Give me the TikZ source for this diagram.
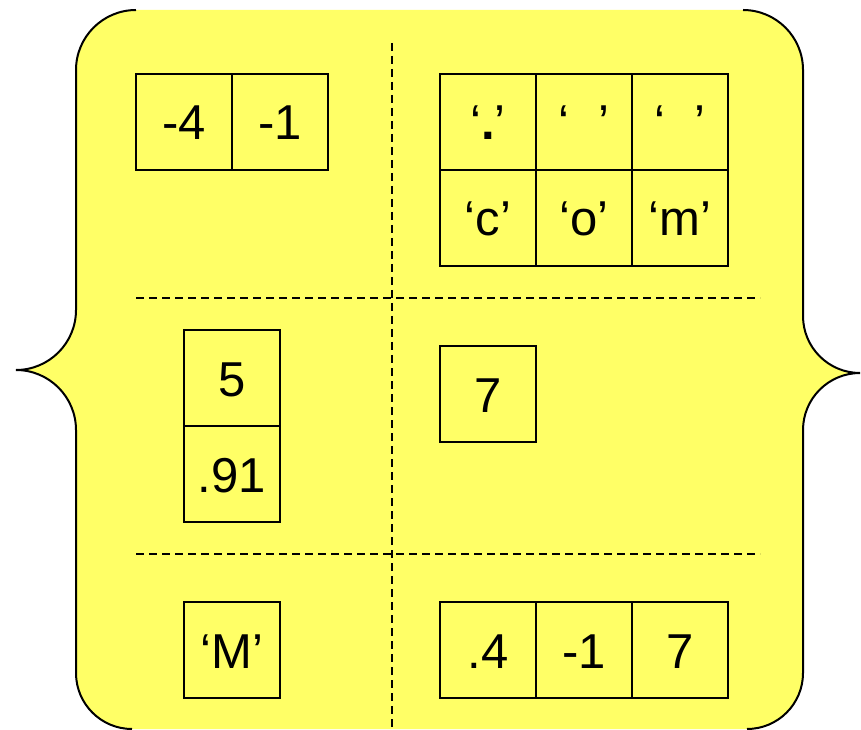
\documentclass[tikz,border=0pt]{standalone}
\usepackage{fontspec}
\setmainfont{Liberation Sans}
\usepackage{tikz}
\usetikzlibrary{calc}
\definecolor{bgyellow}{RGB}{255,255,102}
\tikzset{
  cell/.style={draw,line width=1.5pt,minimum size=96pt,inner sep=0pt,outer sep=0pt,
    text height=36pt,text depth=0pt,font=\fontsize{49}{58}\selectfont},
  divider/.style={line width=1.5pt,dash pattern=on 8pt off 5pt},
  brace/.style={line width=2pt}
}
\begin{document}
\begin{tikzpicture}[x=1pt,y=1pt]
\useasboundingbox (0,0) rectangle (861,729);
% yellow area with a brace on each side
\fill[bgyellow] (136,719) arc (90:180:60) -- (76,419) arc (0:-90:60) arc (90:0:60)
  -- (76,56) arc (180:270:56) -- (747,0) arc (270:360:56) -- (803,299)
  arc (180:90:57) arc (270:180:57) -- (803,659) arc (0:90:60) -- cycle;
\draw[brace] (136,719) arc (90:180:60) -- (76,419) arc (0:-90:60) arc (90:0:60)
  -- (76,56) arc (180:270:56);
\draw[brace] (747,0) arc (270:360:56) -- (803,299)
  arc (180:90:57) arc (270:180:57) -- (803,659) arc (0:90:60);
% dashed dividers
\coordinate (vtop) at (392,686);
\coordinate (vbot) at (392,0);
\coordinate (h1l) at (136,431);
\coordinate (h1r) at (760,431);
\coordinate (h2l) at (136,175);
\coordinate (h2r) at (760,175);
\draw[divider] (vtop) -- (vbot);
\draw[divider] (h1l) -- (h1r);
\draw[divider] (h2l) -- (h2r);
% top row
\node[cell] (ia) at (184,607) {-4};
\node[cell] (ib) at (280,607) {-1};
\node[cell] (sa) at (488,607) {‘\textbf{.}’};
\node[cell] (sb) at (584,607) {‘\hspace{0.6em}’};
\node[cell] (sc) at (680,607) {‘\hspace{0.6em}’};
\node[cell] (sd) at (488,511) {‘c’};
\node[cell] (se) at (584,511) {‘o’};
\node[cell] (sf) at (680,511) {‘m’};
% middle row
\node[cell] (fa) at (232,351) {5};
\node[cell] (fb) at (232,255) {.91};
\node[cell] (n) at (488,335) {7};
% bottom row
\node[cell] (ch) at (232,79) {‘M’};
\node[cell] (va) at (488,79) {.4};
\node[cell] (vb) at (584,79) {-1};
\node[cell] (vc) at (680,79) {7};
\end{tikzpicture}
\end{document}
